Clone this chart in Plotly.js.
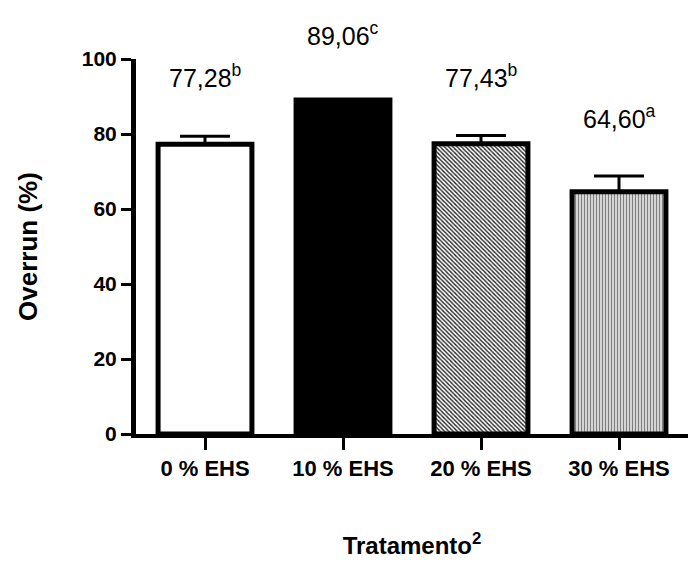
<!DOCTYPE html>
<html>
<head>
<meta charset="utf-8">
<script src="https://cdn.plot.ly/plotly-3.0.1.min.js"></script>
<style>html,body{margin:0;padding:0;background:#fff;}#chart{width:688px;height:586px;}</style>
</head>
<body>
<div id="chart"></div>
<script>
var categories = ["0 % EHS", "10 % EHS", "20 % EHS", "30 % EHS"];
var overrun = [77.28, 89.06, 77.43, 64.60];
var errorUp = [2.1, 0.0, 2.2, 4.2];
var letters = ["b", "c", "b", "a"];
var labelText = ["77,28", "89,06", "77,43", "64,60"];
var labelY = [95.6, 106.6, 95.6, 84.6];
var yTicks = [0, 20, 40, 60, 80, 100];

var FONT = "Liberation Sans, Arial, sans-serif";

var fills = [
  {color: "#ffffff", shape: "", fg: "#000000", bg: "#ffffff", size: 4, sol: 0.3},
  {color: "#000000", shape: "", fg: "#000000", bg: "#000000", size: 4, sol: 0.3},
  {color: "#ffffff", shape: "\\", fg: "#222222", bg: "#ffffff", size: 3, sol: 0.45},
  {color: "#c8c8c8", shape: "|", fg: "#808080", bg: "#dddddd", size: 3, sol: 0.4}
];

var traces = categories.map(function (c, i) {
  var f = fills[i];
  return {
    type: "bar",
    x: [i],
    y: [overrun[i]],
    width: 0.68,
    marker: {
      color: f.color,
      line: {color: "#000000", width: 5},
      pattern: f.shape ? {shape: f.shape, fgcolor: f.fg, bgcolor: f.bg, size: f.size, solidity: f.sol, fgopacity: 1, fillmode: "replace"} : undefined
    },
    error_y: {
      type: "data",
      symmetric: false,
      array: [errorUp[i]],
      arrayminus: [0],
      color: "#000000",
      thickness: 3,
      width: 25,
      visible: errorUp[i] > 0
    },
    hoverinfo: "skip"
  };
});

var annotations = categories.map(function (c, i) {
  return {
    x: i, y: labelY[i] / 100, xref: "x", yref: "paper",
    text: labelText[i] + "<sup>" + letters[i] + "</sup>",
    showarrow: false,
    xanchor: "center", yanchor: "middle",
    font: {family: FONT, size: 25, color: "#000"}
  };
});

var layout = {
  width: 688, height: 586,
  margin: {l: 136, r: 0, t: 59, b: 152},
  paper_bgcolor: "#ffffff",
  plot_bgcolor: "#ffffff",
  showlegend: false,
  barmode: "overlay",
  font: {family: FONT, color: "#000"},
  xaxis: {
    range: [-0.5, 3.5],
    tickmode: "array",
    tickvals: [0, 1, 2, 3],
    ticktext: categories,
    ticks: "outside", ticklen: 12, tickwidth: 3, tickcolor: "#000",
    showline: true, linewidth: 4, linecolor: "#000",
    showgrid: false, zeroline: false,
    tickfont: {family: FONT, size: 22, color: "#000", weight: "bold"},
    title: {text: "<b>Tratamento<sup>2</sup></b>", font: {family: FONT, size: 24, color: "#000"}, standoff: 58}
  },
  yaxis: {
    range: [0, 100],
    tickmode: "array",
    tickvals: yTicks,
    ticktext: yTicks.map(String),
    ticks: "outside", ticklen: 10, tickwidth: 3, tickcolor: "#000",
    showline: true, linewidth: 5, linecolor: "#000",
    showgrid: false, zeroline: false,
    tickfont: {family: FONT, size: 21, color: "#000", weight: "bold"},
    title: {text: "<b>Overrun (%)</b>", font: {family: FONT, size: 26, color: "#000"}, standoff: 38}
  },
  annotations: annotations
};

Plotly.newPlot("chart", traces, layout, {staticPlot: true, displayModeBar: false});
</script>
</body>
</html>
